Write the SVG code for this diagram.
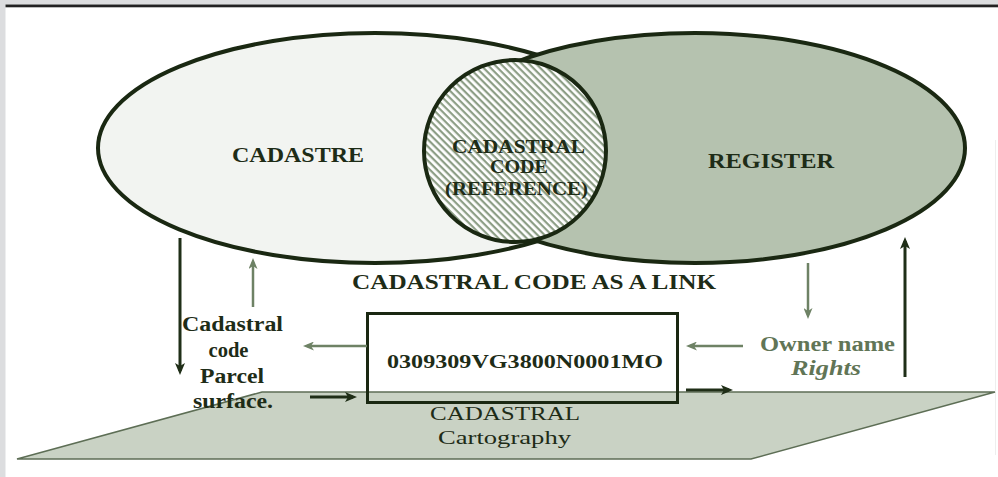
<svg xmlns="http://www.w3.org/2000/svg" width="998" height="477" viewBox="0 0 998 477">
  <style>
    .ell { stroke: #1a2812; stroke-width: 4; }
    .t { font-family: "Liberation Serif", "DejaVu Serif", serif; font-weight: bold; fill: #1e2c17; }
    .tn { font-family: "Liberation Serif", "DejaVu Serif", serif; font-weight: normal; fill: #1e2c17; }
    .dark { stroke: #1f2e17; stroke-width: 3; fill: none; }
    .green { stroke: #6e8265; stroke-width: 2.5; fill: none; }
  </style>
  <defs>
    <pattern id="hatch" width="5" height="5" patternUnits="userSpaceOnUse" patternTransform="rotate(45)">
      <rect width="5" height="5" fill="#ffffff"/>
      <rect width="5" height="2.2" fill="#8d9e86"/>
    </pattern>
    <marker id="ahDark" viewBox="0 0 12 10" refX="8" refY="5" markerWidth="12" markerHeight="10" markerUnits="userSpaceOnUse" orient="auto">
      <path d="M0,0 L12,5 L0,10 L3,5 z" fill="#1f2e17"/>
    </marker>
    <marker id="ahGreen" viewBox="0 0 11 9" refX="7" refY="4.5" markerWidth="11" markerHeight="9" markerUnits="userSpaceOnUse" orient="auto">
      <path d="M0,0 L11,4.5 L0,9 L3,4.5 z" fill="#6e8265"/>
    </marker>
  </defs>

  <!-- page frame -->
  <rect x="0" y="0" width="998" height="477" fill="#ffffff"/>
  <rect x="0" y="0" width="998" height="4.5" fill="#dcdddf"/>
  <rect x="0" y="0" width="5.5" height="477" fill="#dcdddf"/>
  <rect x="5.5" y="4.5" width="992.5" height="2.8" fill="#222222"/>
  <line x1="995.5" y1="140" x2="995.5" y2="455" stroke="#eeeeee" stroke-width="1"/>

  <!-- cartography plane -->
  <g id="cartography">
    <polygon points="262,392 995,392 751,459 17,459" fill="#c9d2c4" stroke="#5d6e55" stroke-width="1.5"/>
    <text class="tn" x="505" y="420" font-size="18" text-anchor="middle" textLength="150" lengthAdjust="spacingAndGlyphs">CADASTRAL</text>
    <text class="tn" x="504.5" y="444" font-size="18" text-anchor="middle" textLength="133" lengthAdjust="spacingAndGlyphs">Cartography</text>
  </g>

  <g id="cadastre">
    <ellipse class="ell" cx="375" cy="148" rx="277" ry="115" fill="#f2f4f1"/>
    <text class="t" x="298" y="162" font-size="21" text-anchor="middle" textLength="132" lengthAdjust="spacingAndGlyphs">CADASTRE</text>
  </g>

  <g id="register">
    <ellipse class="ell" cx="695" cy="148" rx="270" ry="115" fill="#b5c2af"/>
    <text class="t" x="771" y="168" font-size="21" text-anchor="middle" textLength="126" lengthAdjust="spacingAndGlyphs">REGISTER</text>
  </g>

  <g id="cadastral-code">
    <circle class="ell" cx="515" cy="151" r="91" fill="url(#hatch)"/>
    <text class="t" x="518.5" y="153" font-size="19" text-anchor="middle" textLength="133" lengthAdjust="spacingAndGlyphs">CADASTRAL</text>
    <text class="t" x="519" y="173" font-size="19" text-anchor="middle" textLength="58" lengthAdjust="spacingAndGlyphs">CODE</text>
    <text class="t" x="516.5" y="195" font-size="19" text-anchor="middle" textLength="143" lengthAdjust="spacingAndGlyphs">(REFERENCE)</text>
  </g>

  <g id="link-label">
    <text class="t" x="352" y="289" font-size="20" textLength="364" lengthAdjust="spacingAndGlyphs">CADASTRAL CODE AS A  LINK</text>
  </g>

  <g id="code-box">
    <rect x="367.5" y="313.5" width="310" height="89" fill="none" stroke="#1a2812" stroke-width="3"/>
    <text class="t" x="387" y="368" font-size="18" textLength="276" lengthAdjust="spacingAndGlyphs">0309309VG3800N0001MO</text>
  </g>

  <g id="parcel-labels">
    <text class="t" x="232.5" y="331" font-size="20" text-anchor="middle" textLength="101" lengthAdjust="spacingAndGlyphs">Cadastral</text>
    <text class="t" x="228.5" y="357" font-size="20" text-anchor="middle" textLength="40" lengthAdjust="spacingAndGlyphs">code</text>
    <text class="t" x="232" y="383" font-size="20" text-anchor="middle" textLength="64" lengthAdjust="spacingAndGlyphs">Parcel</text>
    <text class="t" x="233" y="408" font-size="20" text-anchor="middle" textLength="80" lengthAdjust="spacingAndGlyphs">surface.</text>
  </g>

  <g id="owner-labels">
    <text class="t" x="827.5" y="351" font-size="20" text-anchor="middle" style="fill:#617556" textLength="135" lengthAdjust="spacingAndGlyphs">Owner name</text>
    <text class="t" x="826" y="375" font-size="20" font-style="italic" text-anchor="middle" style="fill:#617556" textLength="70" lengthAdjust="spacingAndGlyphs">Rights</text>
  </g>

  <g id="connectors">
    <line class="dark" x1="180" y1="238" x2="180" y2="371" marker-end="url(#ahDark)"/>
    <line class="dark" x1="905" y1="377" x2="905" y2="241" marker-end="url(#ahDark)"/>
    <line class="dark" x1="310" y1="397" x2="353" y2="397" marker-end="url(#ahDark)"/>
    <line class="dark" x1="686" y1="390" x2="729" y2="390" marker-end="url(#ahDark)"/>
    <line class="green" x1="253" y1="307" x2="253" y2="262" marker-end="url(#ahGreen)"/>
    <line class="green" x1="367" y1="346" x2="307" y2="346" marker-end="url(#ahGreen)"/>
    <line class="green" x1="808" y1="263" x2="808" y2="315" marker-end="url(#ahGreen)"/>
    <line class="green" x1="743" y1="346" x2="690" y2="346" marker-end="url(#ahGreen)"/>
  </g>
</svg>
